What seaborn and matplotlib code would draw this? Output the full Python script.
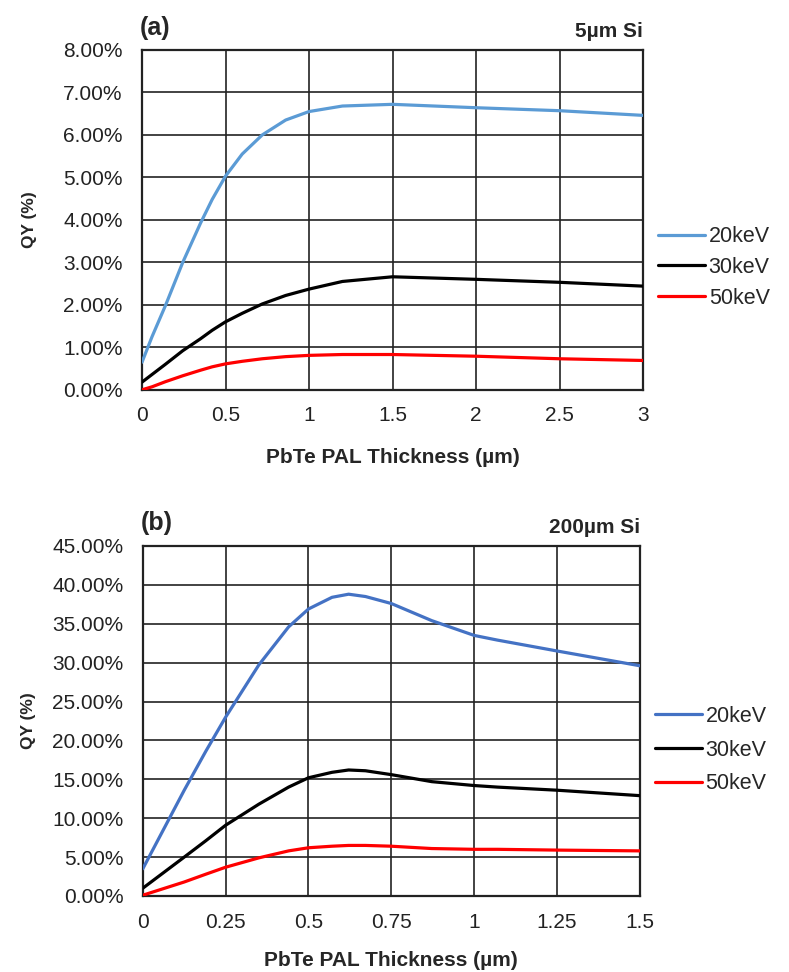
import matplotlib
matplotlib.use("Agg")
import matplotlib.pyplot as plt
import matplotlib.ticker as mticker
import seaborn as sns
import pandas as pd

# ---- data ----
energies = ["20keV", "30keV", "50keV"]

# panel (a): 5um Si
x_a = [0, 0.06, 0.14, 0.244, 0.35, 0.42, 0.5, 0.6, 0.72, 0.86, 1.0, 1.2, 1.5, 2.0, 2.5, 3.0]
qy_a_20 = [0.65, 1.25, 1.98, 3.00, 3.92, 4.48, 5.03, 5.55, 6.00, 6.35, 6.55, 6.68, 6.72, 6.64, 6.57, 6.46]
qy_a_30 = [0.18, 0.36, 0.60, 0.92, 1.20, 1.40, 1.60, 1.80, 2.02, 2.22, 2.37, 2.55, 2.66, 2.60, 2.53, 2.44]
qy_a_50 = [0.00, 0.07, 0.19, 0.33, 0.46, 0.54, 0.61, 0.67, 0.73, 0.78, 0.81, 0.83, 0.83, 0.79, 0.73, 0.69]

# panel (b): 200um Si
x_b = [0, 0.125, 0.19, 0.25, 0.35, 0.44, 0.5, 0.571, 0.621, 0.672, 0.75, 0.872, 1.0, 1.07, 1.25, 1.5]
qy_b_20 = [3.5, 13.6, 18.6, 23.0, 29.7, 34.6, 36.9, 38.4, 38.8, 38.5, 37.6, 35.4, 33.5, 32.9, 31.5, 29.6]
qy_b_30 = [1.0, 5.0, 7.1, 9.1, 11.8, 14.0, 15.2, 15.9, 16.2, 16.1, 15.6, 14.7, 14.2, 14.0, 13.6, 12.9]
qy_b_50 = [0.1, 1.8, 2.8, 3.7, 4.9, 5.8, 6.2, 6.4, 6.5, 6.5, 6.4, 6.1, 6.0, 6.0, 5.9, 5.8]

xticks_a = [0, 0.5, 1, 1.5, 2, 2.5, 3]
xticklabels_a = ["0", "0.5", "1", "1.5", "2", "2.5", "3"]
yticks_a = [0, 1, 2, 3, 4, 5, 6, 7, 8]
xticks_b = [0, 0.25, 0.5, 0.75, 1, 1.25, 1.5]
xticklabels_b = ["0", "0.25", "0.5", "0.75", "1", "1.25", "1.5"]
yticks_b = [0, 5, 10, 15, 20, 25, 30, 35, 40, 45]

def long_df(x, series):
    rows = []
    for name, ys in zip(energies, series):
        for xv, yv in zip(x, ys):
            rows.append({"x": xv, "QY": yv, "Energy": name})
    return pd.DataFrame(rows)

df_a = long_df(x_a, [qy_a_20, qy_a_30, qy_a_50])
df_b = long_df(x_b, [qy_b_20, qy_b_30, qy_b_50])

sns.set_theme(style="white")
plt.rcParams["font.family"] = ["Liberation Sans", "DejaVu Sans"]

fig = plt.figure(figsize=(7.89, 9.72), dpi=100)
ax_a = fig.add_axes([0.180, 0.599, 0.635, 0.3496])
ax_b = fig.add_axes([0.181, 0.0782, 0.630, 0.3601])

pal_a = {"20keV": "#5B9BD5", "30keV": "#000000", "50keV": "#FF0000"}
pal_b = {"20keV": "#4472C4", "30keV": "#000000", "50keV": "#FF0000"}

def style(ax, df, pal, xticks, xlabels, yticks, ymax, xmax, panel, subtitle, leg_y, lspace,
          ylab_x, xlab_pad):
    sns.lineplot(data=df, x="x", y="QY", hue="Energy", palette=pal, ax=ax,
                 linewidth=2.3, sort=False, legend=True, zorder=3)
    ax.set_xlim(0, xmax)
    ax.set_ylim(0, ymax)
    ax.set_xticks(xticks)
    ax.set_xticklabels(xlabels)
    ax.set_yticks(yticks)
    ax.yaxis.set_major_formatter(mticker.FuncFormatter(lambda v, p: f"{v:.2f}%"))
    ax.grid(True, color="#222222", linewidth=1.2)
    for s in ax.spines.values():
        s.set_color("#222222")
        s.set_linewidth(1.6)
    ax.tick_params(axis="both", labelsize=15, length=0, colors="#222222")
    ax.tick_params(axis="x", pad=12)
    ax.tick_params(axis="y", pad=14)
    ax.set_xlabel("PbTe PAL Thickness (µm)", fontsize=15, fontweight="bold", labelpad=xlab_pad)
    ax.set_ylabel("QY (%)", fontsize=12.5, fontweight="bold")
    ax.yaxis.set_label_coords(ylab_x, 0.5)
    ax.text(-0.005, 1.03, panel, transform=ax.transAxes, fontsize=18, fontweight="bold",
            ha="left", va="bottom")
    ax.text(1.0, 1.025, subtitle, transform=ax.transAxes, fontsize=15, fontweight="bold",
            ha="right", va="bottom")
    leg = ax.legend(loc="center left", bbox_to_anchor=(1.0, leg_y), frameon=False,
                    fontsize=15.5, handlelength=2.2, handletextpad=0.15, labelspacing=lspace,
                    borderaxespad=0.3)
    for h in leg.get_lines():
        h.set_linewidth(2.3)

style(ax_a, df_a, pal_a, xticks_a, xticklabels_a, yticks_a, 8, 3, "(a)", "5µm Si", 0.36, 0.45,
      -0.21, 16)
style(ax_b, df_b, pal_b, xticks_b, xticklabels_b, yticks_b, 45, 1.5, "(b)", "200µm Si", 0.417, 0.6,
      -0.215, 14)

fig.savefig("out.png", dpi=100, facecolor="white")
